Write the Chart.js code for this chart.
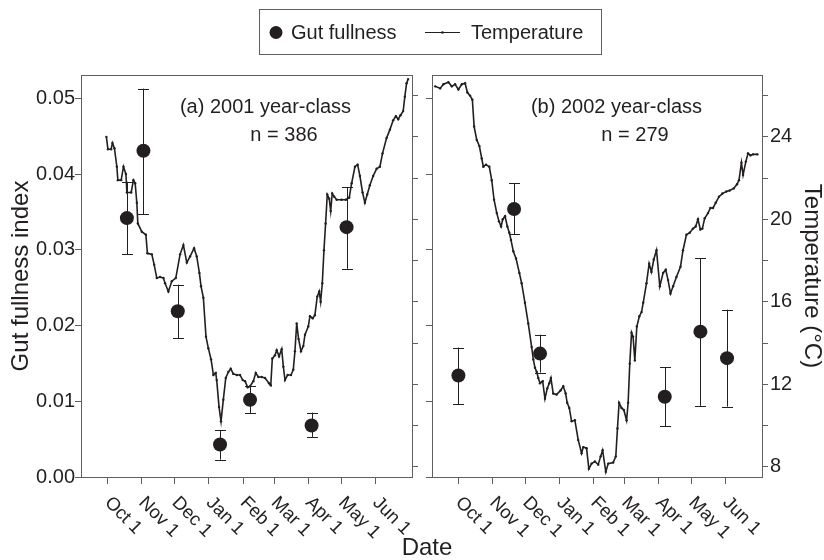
<!DOCTYPE html>
<html><head><meta charset="utf-8">
<script src="https://cdn.jsdelivr.net/npm/chart.js@4.4.1/dist/chart.umd.min.js"></script>
<style>
html,body{margin:0;padding:0;background:#fff;}
#wrap{position:relative;width:824px;height:560px;background:#fff;}
canvas{position:absolute;left:0;top:0;}
</style></head><body>
<div id="wrap"><canvas id="cA" width="824" height="560"></canvas><canvas id="cB" width="824" height="560"></canvas></div>
<script>
// ---------- data (x = days since Oct 1) ----------
const monthTickDays = [0, 31, 61, 92, 123, 151, 182, 212, 243];
const monthTickLabels = ['Oct 1','Nov 1','Dec 1','Jan 1','Feb 1','Mar 1','Apr 1','May 1','Jun 1'];
const gutTicks = [0, 0.01, 0.02, 0.03, 0.04, 0.05];
const tempTicks = [8, 10, 12, 14, 16, 18, 20, 22, 24, 26];
const seriesNames = ['Gut fullness', 'Temperature'];

// (a) 2001 year-class
const gutDaysA = [17.6, 32.6, 63.7, 102, 129.2, 185, 216.7];
const gutA     = [0.0342, 0.0431, 0.0219, 0.0043, 0.0102, 0.0068, 0.0330];
const gutHiA   = [0.0390, 0.0513, 0.0254, 0.0062, 0.0120, 0.0085, 0.0383];
const gutLoA   = [0.0294, 0.0347, 0.0183, 0.0023, 0.0084, 0.0053, 0.0275];
const tempDaysA = [-1,0.4,3.3,4.5,6.3,8.5,9.4,12.4,14.5,16.7,17.6,21.5,23.5,25.1,26.6,27.5,31.1,34.8,36.2,40.2,42.3,44.7,47.7,50.7,52.2,55.2,58.3,61.9,65.8,68.8,71.9,74.9,78.5,80.9,83.3,84.8,86.9,89.3,91.4,93.9,96,98.1,99,101.1,102.9,105,107.2,109.6,111.7,114.1,117.2,120.1,122.6,124.7,127.1,129.2,132.2,134.4,136.7,139.8,142.8,146.4,148,149.4,151.8,153.4,155.5,157.9,159.4,160.9,163.3,166.3,168.4,169.9,171.5,173.2,175.4,177.5,179,182,183.5,186,188,190.1,191.9,193.2,194.7,196.2,197.7,199.2,201,202.3,203.7,205.5,207.7,212.2,216,219.1,221.3,224.3,226.7,228.8,231.2,233.3,235.4,237.8,240.8,243.9,246.9,249.3,253,256,258.9,261.4,263.5,265.6,268,269.5,271.1,272.5];
const tempA = [24.0,23.4,23.4,23.7,23.45,22.55,21.9,21.9,22.55,22.2,21.3,21.3,21.9,21.75,20.8,19.8,19.4,19.25,18.35,18.3,17.8,17.15,17.2,17.15,16.9,16.5,17.0,17.15,18.3,18.75,17.9,18.2,18.6,18.2,17.4,16.75,16.2,14.3,13.75,13.2,12.45,12.55,12.2,10.9,10.2,11.25,12.3,12.6,12.75,12.5,12.45,12.45,12.2,12.15,11.85,11.9,12.15,12.55,12.35,12.35,12.3,12.05,11.95,13.25,13.4,13.65,13.35,13.7,12.85,12.2,12.45,12.45,12.7,13.6,14.95,14.2,13.6,13.85,14.4,14.8,15.3,15.2,15.35,16.25,16.5,16.0,16.9,18.5,19.8,21.2,21.0,20.4,21.25,21.1,20.95,20.95,20.95,21.05,21.75,22.55,22.65,22.1,21.3,20.8,21.2,21.65,22.1,22.45,22.55,23.2,23.95,24.35,24.8,25.0,24.85,25.05,25.25,25.95,26.6,26.8];

// (b) 2002 year-class
const gutDaysB = [0, 50.6, 74.2, 187.6, 220, 244.2];
const gutB     = [0.0134, 0.0354, 0.0163, 0.0106, 0.0192, 0.0157];
const gutHiB   = [0.0171, 0.0388, 0.0188, 0.0145, 0.0289, 0.0221];
const gutLoB   = [0.0096, 0.0321, 0.0138, 0.0067, 0.0094, 0.0093];
const tempDaysB = [-21.1,-16.6,-13.6,-9.1,-6,-3,0,3.1,6.1,8.2,10.6,12.7,14.3,16.7,19.1,21.2,22.7,25.1,28.1,30.3,32.4,34.9,36.9,38.8,40.3,42.4,44.5,46.3,47.8,49.9,52.4,55.4,57.5,60.5,63.5,66.6,68.1,69.6,71.2,72.6,74.2,76.6,78.7,80.8,82.6,84.1,86.2,89.3,92.9,95.3,97.5,98.9,100.8,102.9,105.9,108.9,112,113.5,116.5,118.6,121.1,124.1,127.1,129.3,131.1,134,136.2,140.7,143.1,144.6,146.1,148.3,150.4,152.9,154.3,155.8,157.4,158.8,160.4,162.2,164.5,166.5,168,171,173.4,175.5,177.6,180.1,183.1,186.1,188.5,190.6,192.8,195.2,198.2,201.9,204.2,207.3,210.3,213.3,215.7,217.8,220,221.8,223.9,226.9,229.1,231.5,233.9,236.9,240,243.6,246.6,250.3,253.3,255.1,257.3,258.8,261.3,263.3,265.5,267.8,271.8];
const tempB = [26.45,26.35,26.55,26.65,26.45,26.55,26.3,26.55,26.6,26.15,26.0,25.8,24.5,23.85,23.55,22.95,22.55,22.65,22.55,21.9,20.95,20.3,19.9,19.65,20.0,20.15,19.65,19.35,19.0,18.45,18.1,17.4,16.9,15.95,14.95,13.8,13.2,12.8,12.6,12.3,12.05,12.15,11.3,11.8,12.05,12.3,11.55,11.5,11.7,11.9,11.55,11.1,10.85,10.2,10.25,9.3,8.65,8.95,8.9,7.9,8.15,8.25,8.1,8.5,8.8,7.75,8.15,8.2,8.5,9.85,11.1,10.85,10.75,10.25,11.1,13.0,14.5,14.3,13.15,14.8,15.3,15.5,15.95,16.9,17.85,17.45,18.05,18.5,16.75,17.4,17.55,17.05,16.4,16.75,17.2,17.7,18.5,19.25,19.35,19.55,19.65,20.0,19.5,19.55,20.05,20.3,20.55,20.55,20.8,21.1,21.25,21.35,21.4,21.5,21.7,21.9,22.75,22.15,22.8,23.2,23.1,23.15,23.15];

// ---------- style ----------
const FONT = "'Liberation Sans', Arial, Helvetica, sans-serif";
const TEXT = '#231f20';
const FRAME = '#5e5f61';
Chart.defaults.font.family = FONT;
Chart.defaults.color = TEXT;

const deco = {
  id: 'deco',
  afterDatasetsDraw(chart, args, o) {
    const ctx = chart.ctx, x = chart.scales.x, y = chart.scales.y;
    ctx.save();
    ctx.strokeStyle = TEXT; ctx.lineWidth = 1;
    o.days.forEach((d, i) => {
      const px = Math.round(x.getPixelForValue(d)) + 0.5;
      const yt = y.getPixelForValue(o.hi[i]), yb = y.getPixelForValue(o.lo[i]);
      ctx.beginPath();
      ctx.moveTo(px, yt); ctx.lineTo(px, yb);
      ctx.moveTo(px - 5.5, Math.round(yt) + 0.5); ctx.lineTo(px + 5.5, Math.round(yt) + 0.5);
      ctx.moveTo(px - 5.5, Math.round(yb) + 0.5); ctx.lineTo(px + 5.5, Math.round(yb) + 0.5);
      ctx.stroke();
    });
    ctx.restore();
  },
  afterDraw(chart, args, o) {
    const ctx = chart.ctx, a = chart.chartArea, x = chart.scales.x;
    ctx.save();
    // top frame line
    ctx.strokeStyle = FRAME; ctx.lineWidth = 1;
    ctx.beginPath(); ctx.moveTo(a.left, a.top + 0.5); ctx.lineTo(a.right, a.top + 0.5); ctx.stroke();
    // rotated date labels
    ctx.fillStyle = TEXT;
    ctx.font = '18.5px ' + FONT;
    ctx.textAlign = 'left'; ctx.textBaseline = 'middle';
    monthTickDays.forEach((d, i) => {
      const px = x.getPixelForValue(d);
      ctx.save();
      ctx.translate(px, a.bottom + 23);
      ctx.rotate(Math.PI / 4);
      ctx.fillText(monthTickLabels[i], 0, 0);
      ctx.restore();
    });
    // panel labels
    ctx.font = '20px ' + FONT;
    ctx.textAlign = 'center';
    ctx.fillText(o.title, a.left + 184.5, a.top + 32);
    ctx.fillText(o.n, a.left + 203, a.top + 60);
    if (o.legend) {
      const ds = chart.data.datasets;
      ctx.strokeStyle = FRAME; ctx.lineWidth = 1;
      ctx.strokeRect(259.5, 9.5, 342, 45);
      ctx.fillStyle = TEXT;
      ctx.beginPath(); ctx.arc(276, 32.5, 6.5, 0, Math.PI * 2); ctx.fill();
      ctx.textAlign = 'left';
      ctx.fillText(ds[0].label, 291, 33);
      ctx.strokeStyle = TEXT;
      ctx.beginPath(); ctx.moveTo(425, 32.5); ctx.lineTo(460, 32.5); ctx.stroke();
      ctx.beginPath(); ctx.arc(442.5, 32.5, 1.3, 0, Math.PI * 2); ctx.fill();
      ctx.fillText(ds[1].label, 471, 33);
      ctx.font = '24px ' + FONT;
      ctx.textAlign = 'center';
      ctx.fillText('Date', 427, 548);
    }
    ctx.restore();
  }
};

function setTicks(list) { return (s) => { s.ticks = list.map(v => ({ value: v })); }; }
function fixW(w) { return (s) => { s.width = w; }; }
function fixH(h) { return (s) => { s.height = h; }; }

function makePanel(id, p) {
  return new Chart(document.getElementById(id), {
    type: 'line',
    data: {
      datasets: [
        { label: seriesNames[0], data: p.gutDays.map((d, i) => ({ x: d, y: p.gut[i] })),
          yAxisID: 'y', showLine: false, pointRadius: 7, pointHoverRadius: 7,
          pointBackgroundColor: TEXT, pointBorderColor: TEXT, pointBorderWidth: 0 },
        { label: seriesNames[1], data: p.tDays.map((d, i) => ({ x: d, y: p.temp[i] })),
          yAxisID: 'y2', borderColor: TEXT, borderWidth: 1.6, tension: 0,
          pointRadius: 1.2, pointBackgroundColor: TEXT, pointBorderWidth: 0 }
      ]
    },
    options: {
      responsive: false, animation: false, devicePixelRatio: 1,
      layout: { padding: p.padding },
      plugins: { legend: { display: false }, tooltip: { enabled: false },
        deco: { days: p.gutDays, hi: p.hi, lo: p.lo, title: p.title, n: p.n, legend: p.legend } },
      scales: {
        x: { type: 'linear', position: 'bottom', min: -24, max: 276,
          afterBuildTicks: setTicks(monthTickDays), afterFit: fixH(10),
          ticks: { display: false },
          grid: { drawOnChartArea: false, drawTicks: true, tickLength: 7, color: FRAME, lineWidth: 1 },
          border: { display: true, color: FRAME, width: 1 } },
        y: { type: 'linear', position: 'left', min: 0, max: 0.0531,
          afterBuildTicks: setTicks(gutTicks), afterFit: fixW(p.yW),
          ticks: { display: p.yLabels, padding: 0, font: { size: 20 }, color: TEXT,
                   callback: v => v.toFixed(2) },
          grid: { drawOnChartArea: false, drawTicks: true, tickLength: 6, color: FRAME, lineWidth: 1 },
          border: { display: true, color: FRAME, width: 1 },
          title: { display: p.yLabels, text: 'Gut fullness index', font: { size: 24, lineHeight: 1.2 },
                   padding: { top: 7, bottom: 0 }, color: TEXT } },
        y2: { type: 'linear', position: 'right', min: 7.5, max: 27,
          afterBuildTicks: setTicks(tempTicks), afterFit: fixW(p.y2W),
          ticks: { display: p.y2Labels, padding: 2, font: { size: 20 }, color: TEXT,
                   callback: v => (v % 4 === 0 ? String(v) : '') },
          grid: { drawOnChartArea: false, drawTicks: true, tickLength: 6, color: FRAME, lineWidth: 1 },
          border: { display: true, color: FRAME, width: 1 },
          title: { display: p.y2Labels, text: 'Temperature (°C)', font: { size: 24, lineHeight: 1 },
                   padding: { top: 0, bottom: 0 }, color: TEXT } }
      }
    },
    plugins: [deco]
  });
}

makePanel('cA', {
  gutDays: gutDaysA, gut: gutA, hi: gutHiA, lo: gutLoA, tDays: tempDaysA, temp: tempA,
  padding: { left: 0, top: 75, right: 404, bottom: 73 }, yW: 81, y2W: 8,
  yLabels: true, y2Labels: false, title: '(a) 2001 year-class', n: 'n = 386', legend: true
});
makePanel('cB', {
  gutDays: gutDaysB, gut: gutB, hi: gutHiB, lo: gutLoB, tDays: tempDaysB, temp: tempB,
  padding: { left: 426, top: 75, right: 0, bottom: 73 }, yW: 6, y2W: 62,
  yLabels: false, y2Labels: true, title: '(b) 2002 year-class', n: 'n = 279', legend: false
});
</script>
</body></html>
